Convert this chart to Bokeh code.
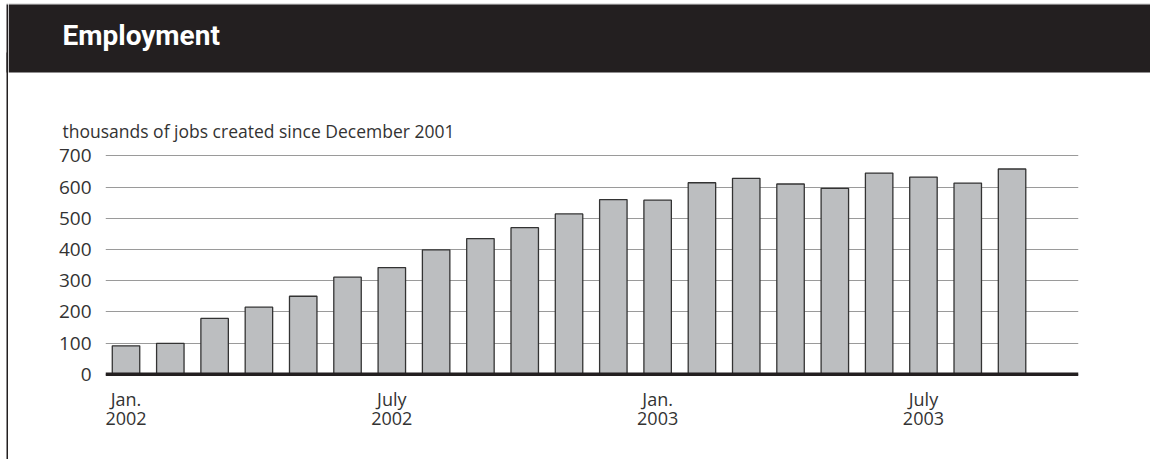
from bokeh.plotting import figure
from bokeh.layouts import column, row
from bokeh.models import Range1d, FixedTicker, Span, Label
from bokeh.embed import file_html
from bokeh.resources import INLINE

# ---- data ----
months = ["Jan 2002", "Feb 2002", "Mar 2002", "Apr 2002", "May 2002", "Jun 2002",
          "Jul 2002", "Aug 2002", "Sep 2002", "Oct 2002", "Nov 2002", "Dec 2002",
          "Jan 2003", "Feb 2003", "Mar 2003", "Apr 2003", "May 2003", "Jun 2003",
          "Jul 2003", "Aug 2003", "Sep 2003"]
jobs = [91, 99, 179, 215, 250, 311, 342, 399, 435, 470, 514, 560,
        558, 614, 628, 610, 596, 645, 632, 613, 658]
tick_positions = [0, 6, 12, 18]
tick_labels = ["Jan.\n2002", "July\n2002", "Jan.\n2003", "July\n2003"]
y_ticks = [0, 100, 200, 300, 400, 500, 600, 700]

title_text = "Employment"
subtitle_text = "thousands of jobs created since December 2001"

DARK = "#231f20"
TEXT = "#333333"
FONT = "Open Sans"
H = 459
W = 1150
STRIP_W = 8
TOP_H = 142
CHART_H = H - TOP_H


def bare(fig):
    fig.axis.visible = False
    fig.grid.visible = False
    fig.outline_line_color = None
    fig.background_fill_color = "white"
    fig.border_fill_color = "white"
    return fig


# ---- left strip: start of header band + left rule ----
strip = bare(figure(width=STRIP_W, height=H, x_range=Range1d(0, STRIP_W), y_range=Range1d(H, 0),
                    output_backend="svg", toolbar_location=None, min_border=0))
strip.quad(left=[6], right=[STRIP_W], top=[3], bottom=[4], fill_color="#c8c8c8", line_color=None)
strip.quad(left=[6], right=[STRIP_W], top=[4], bottom=[72], fill_color=DARK, line_color=None)
strip.quad(left=[6], right=[STRIP_W], top=[52], bottom=[H], fill_color=DARK, line_color=None)

# ---- top block: dark header band, title, subtitle ----
top = bare(figure(width=W - STRIP_W, height=TOP_H, x_range=Range1d(STRIP_W, W),
                  y_range=Range1d(TOP_H, 0),
                  output_backend="svg", toolbar_location=None, min_border=0))
top.quad(left=[STRIP_W], right=[W], top=[3], bottom=[4], fill_color="#c8c8c8", line_color=None)
top.quad(left=[STRIP_W], right=[W], top=[4], bottom=[72], fill_color=DARK, line_color=None)
top.add_layout(Label(x=62, y=35, text=title_text, text_color="white",
                     text_font="Roboto", text_font_style="bold", text_font_size="28px",
                     text_baseline="middle"))
top.add_layout(Label(x=62, y=130, text=subtitle_text, text_font=FONT,
                     text_font_size="17.5px", text_color=TEXT, text_baseline="middle"))

# ---- chart ----
PX_PER_UNIT = 0.31184
zero_px = 373.7
frame_bottom_px = 380
frame_h = frame_bottom_px - TOP_H
y_lo = -(frame_bottom_px - zero_px) / PX_PER_UNIT
y_hi = y_lo + frame_h / PX_PER_UNIT

idx = list(range(len(jobs)))
p = figure(width=W - STRIP_W, height=CHART_H, x_range=Range1d(-0.463, 21.5),
           y_range=Range1d(y_lo, y_hi),
           output_backend="svg", toolbar_location=None,
           min_border_left=105 - STRIP_W, min_border_right=W - 1078, min_border_top=0,
           min_border_bottom=CHART_H - frame_h)
p.outline_line_color = None
p.background_fill_color = "white"
p.border_fill_color = "white"

p.vbar(x=idx, top=jobs, width=0.62, fill_color="#bcbec0", line_color="#333333", line_width=1.3)

p.add_layout(Span(location=0, dimension="width", line_color=DARK, line_width=3.5))

p.xgrid.visible = False
p.ygrid.ticker = FixedTicker(ticks=y_ticks)
p.ygrid.grid_line_color = "#9a9a9a"
p.ygrid.grid_line_width = 1

p.yaxis.ticker = FixedTicker(ticks=y_ticks)
p.yaxis.axis_line_color = None
p.yaxis.major_tick_line_color = None
p.yaxis.minor_tick_line_color = None
p.yaxis.major_label_standoff = 8
p.yaxis.major_label_text_font = FONT
p.yaxis.major_label_text_font_size = "19px"
p.yaxis.major_label_text_color = TEXT

p.xaxis.ticker = FixedTicker(ticks=tick_positions)
p.xaxis.major_label_overrides = {t: l for t, l in zip(tick_positions, tick_labels)}
p.xaxis.axis_line_color = None
p.xaxis.major_tick_line_color = None
p.xaxis.minor_tick_line_color = None
p.xaxis.major_label_standoff = 0
p.xaxis.major_label_text_font = FONT
p.xaxis.major_label_text_font_size = "18px"
p.xaxis.major_label_text_color = TEXT
p.xaxis.major_label_text_line_height = 0.8

layout = row(strip, column(top, row(p, spacing=0), spacing=0), spacing=0)

open("out.html", "w").write(file_html(layout, INLINE))
